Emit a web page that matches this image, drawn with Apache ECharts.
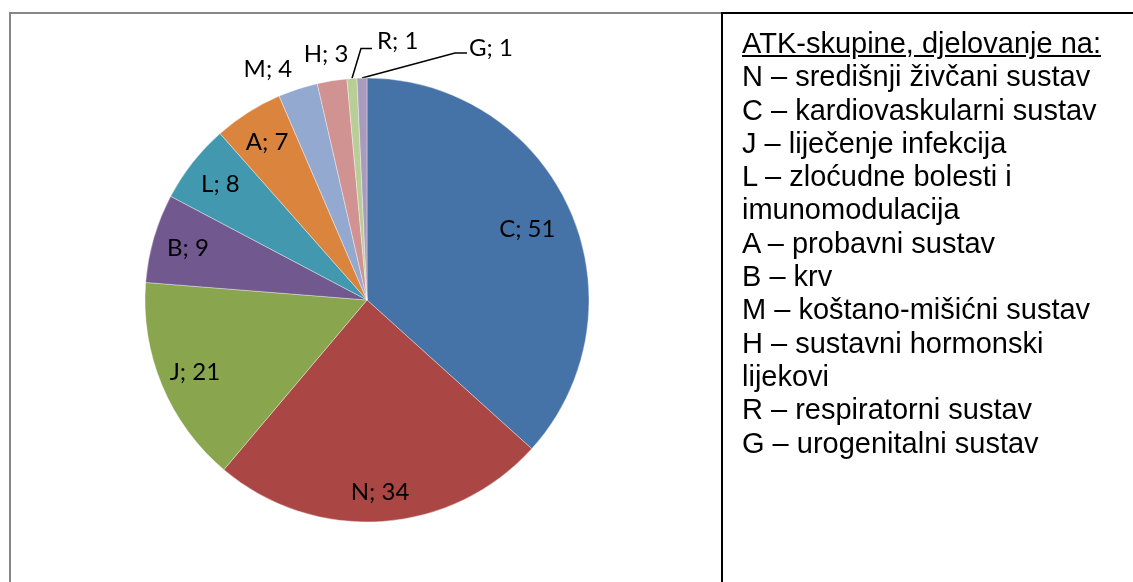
<!DOCTYPE html>
<html>
<head>
<meta charset="utf-8">
<script src="https://cdn.jsdelivr.net/npm/echarts@6.0.0/dist/echarts.min.js"></script>
<style>
html,body{margin:0;padding:0;background:#fff;width:1133px;height:582px;overflow:hidden;}
#chart{position:absolute;left:0;top:0;width:1133px;height:582px;}
#frameL{position:absolute;left:9px;top:12px;width:720px;height:600px;border-left:2px solid #868686;border-top:2px solid #868686;box-sizing:border-box;}
#frameR{position:absolute;left:721px;top:12px;width:430px;height:600px;border-left:2px solid #000;border-top:2px solid #000;box-sizing:border-box;}
#legend{position:absolute;left:742px;top:27px;font-family:"Liberation Sans",Arial,sans-serif;font-size:29px;line-height:33.3px;color:#000;white-space:nowrap;}
#legend .t{text-decoration:underline;}
</style>
</head>
<body>
<div id="frameL"></div>
<div id="frameR"></div>
<div id="chart"></div>
<div id="legend"></div>
<script>
// ---- data ----
const categories = ['C', 'N', 'J', 'B', 'L', 'A', 'M', 'H', 'R', 'G'];
const values = [51, 34, 21, 9, 8, 7, 4, 3, 1, 1];
const colors = ['#4572A7', '#AA4643', '#89A54E', '#71588F', '#4198AF', '#DB843D', '#93A9CF', '#D19392', '#B9CD96', '#A99BBD'];
const outsideCats = ['M', 'H', 'R', 'G'];
const legendTitle = 'ATK-skupine, djelovanje na:';
const legendLines = [
  'N – središnji živčani sustav',
  'C – kardiovaskularni sustav',
  'J – liječenje infekcija',
  'L – zloćudne bolesti i',
  'imunomodulacija',
  'A – probavni sustav',
  'B – krv',
  'M – koštano-mišićni sustav',
  'H – sustavni hormonski',
  'lijekovi',
  'R – respiratorni sustav',
  'G – urogenitalni sustav'
];

// ---- legend panel (text) ----
const lg = document.getElementById('legend');
const t = document.createElement('div'); t.className = 't'; t.textContent = legendTitle; lg.appendChild(t);
legendLines.forEach(s => { const d = document.createElement('div'); d.textContent = s; lg.appendChild(d); });

// ---- layout (styling) ----
const CX = 367, CY = 300, R = 222;
const innerFrac = { C: 0.79, N: 0.87, J: 0.84, B: 0.84, L: 0.84, A: 0.84 };
// label offsets from the slice's outer edge point (styling)
const outsideStyle = {
  M: { dx: -30, dy: -20, line: null },
  H: { dx: -6, dy: -27, line: null },
  R: { line: [[9, -30], [20, -30]], gap: 5, dyText: -7 },
  G: { line: [[93, -25], [105, -25]], gap: 2, dyText: -5 }
};

const total = values.reduce((a, b) => a + b, 0);
function midAngle(i) {
  let s = 0;
  for (let k = 0; k < i; k++) s += values[k];
  return (s + values[i] / 2) / total * 2 * Math.PI;
}

const data = categories.map((c, i) => {
  const isOut = outsideCats.indexOf(c) >= 0;
  const hasLine = isOut && outsideStyle[c].line;
  return {
    name: c,
    value: values[i],
    itemStyle: { color: colors[i] },
    label: { position: isOut ? 'outside' : 'inside' },
    labelLine: { show: !!hasLine }
  };
});

const chart = echarts.init(document.getElementById('chart'), null, { renderer: 'canvas' });
chart.setOption({
  animation: false,
  series: [{
    type: 'pie',
    center: [CX, CY],
    radius: R,
    startAngle: 90,
    clockwise: true,
    avoidLabelOverlap: false,
    data: data,
    itemStyle: { borderWidth: 0.6, borderColor: 'rgba(255,255,255,0.6)' },
    emphasis: { disabled: true },
    label: {
      show: true,
      formatter: '{b}; {c}',
      fontFamily: 'Lato',
      fontSize: 24,
      color: '#000'
    },
    labelLine: { lineStyle: { color: '#000', width: 1.5 }, length: 10, length2: 10 },
    labelLayout: function (p) {
      const i = p.dataIndex;
      const c = categories[i];
      const a = midAngle(i);
      const sx = Math.sin(a), sy = -Math.cos(a);
      if (outsideCats.indexOf(c) < 0) {
        const f = innerFrac[c];
        return { x: CX + sx * R * f, y: CY + sy * R * f, align: 'center', verticalAlign: 'middle' };
      }
      const ex = CX + sx * R, ey = CY + sy * R;
      const st = outsideStyle[c];
      if (!st.line) {
        return { x: ex + st.dx, y: ey + st.dy, align: 'center', verticalAlign: 'middle' };
      }
      const p1 = [ex + st.line[0][0], ey + st.line[0][1]];
      const p2 = [ex + st.line[1][0], ey + st.line[1][1]];
      return {
        x: p2[0] + st.gap, y: p2[1] + st.dyText, align: 'left', verticalAlign: 'middle',
        labelLinePoints: [[ex, ey], p1, p2]
      };
    }
  }]
});
</script>
</body>
</html>
